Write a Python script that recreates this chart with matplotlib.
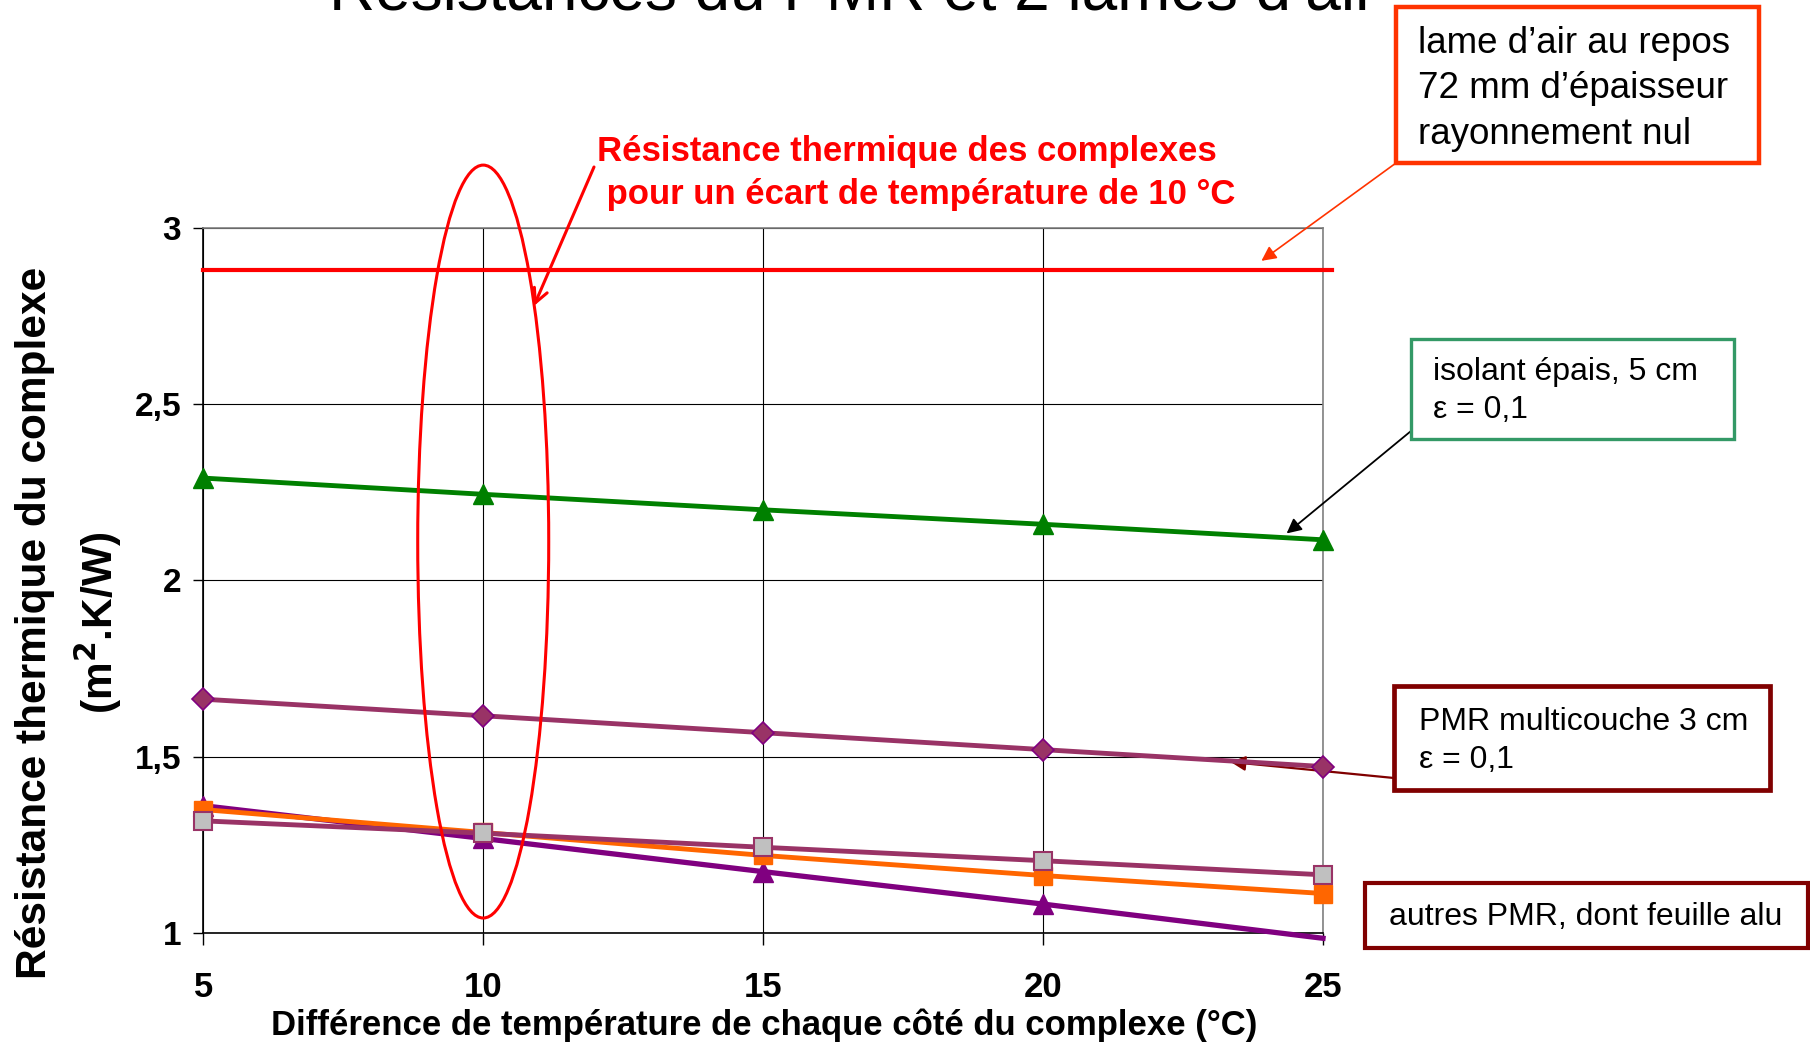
import numpy as np
import matplotlib
matplotlib.use("Agg")
import matplotlib.pyplot as plt
import matplotlib.patches as patches

plt.rcParams['font.family'] = ['Liberation Sans', 'DejaVu Sans']

# temperature difference across the assembly (°C)
delta_t = [5, 10, 15, 20, 25]

# thermal resistance of each assembly (m².K/W)
lame_air_R = 2.88
isolant_R = [2.29, 2.244, 2.20, 2.159, 2.115]
pmr_multi_R = [1.663, 1.616, 1.568, 1.520, 1.472]
pmr_alu_R = [1.361, 1.268, 1.174, 1.082, 0.985]
pmr_orange_R = [1.350, 1.285, 1.220, 1.163, 1.112]
pmr_gris_R = [1.318, 1.283, 1.243, 1.205, 1.165]

y_ticks = [1, 1.5, 2, 2.5, 3]
y_tick_labels = ['1', '1,5', '2', '2,5', '3']

W, H = 1810, 1046
fig = plt.figure(figsize=(W / 100, H / 100), dpi=100)


def fx(px):
    return px / W


def fy(py):
    return 1 - py / H


ax = fig.add_axes([fx(203.3), fy(933), fx(1323) - fx(203.3), fy(227.7) - fy(933)])
ax.set_xlim(5, 25)
ax.set_ylim(1, 3)

ax.set_xticks(delta_t)
ax.set_xticklabels([str(t) for t in delta_t], fontsize=25, fontweight='bold')
ax.set_yticks(y_ticks)
ax.set_yticklabels(y_tick_labels, fontsize=24, fontweight='bold')
ax.tick_params(axis='x', length=8.6, width=1, pad=19)
ax.tick_params(axis='y', length=7, width=1, pad=9)
ax.grid(True, color='black', lw=0.8)
for s in ['left', 'bottom']:
    ax.spines[s].set_color('black')
    ax.spines[s].set_linewidth(1.2)
for s in ['top', 'right']:
    ax.spines[s].set_color('#808080')
    ax.spines[s].set_linewidth(1.2)

lw = 3.5

# air layer at rest, no radiation
ax.axhline(lame_air_R, xmin=0, xmax=1.008, color='#FF0000', lw=3.0, clip_on=False, zorder=3)

ax.plot(delta_t, isolant_R, color='#008000', lw=lw, marker='^', ms=14,
        mfc='#008000', mec='#008000', clip_on=False, zorder=4)
ax.plot(delta_t, pmr_multi_R, color='#993366', lw=lw, marker='D', ms=11,
        mfc='#993366', mec='#800080', mew=1.2, clip_on=False, zorder=4)

# the last point falls under the axis: draw the line but only the visible markers
t_arr = np.array(delta_t)
alu = np.array(pmr_alu_R)
ax.plot(t_arr, alu, color='#800080', lw=3.8, clip_on=False, zorder=4)
ax.plot(t_arr[alu >= 1], alu[alu >= 1], ls='none', marker='^', ms=14,
        mfc='#800080', mec='#800080', clip_on=False, zorder=4)

ax.plot(delta_t, pmr_orange_R, color='#FF6600', lw=lw, marker='s', ms=13,
        mfc='#FF6600', mec='#FF6600', clip_on=False, zorder=5)
ax.plot(delta_t, pmr_gris_R, color='#993366', lw=lw, marker='s', ms=13,
        mfc='#C0C0C0', mec='#993366', mew=1.5, clip_on=False, zorder=6)

# highlight the 10 °C column
ell = patches.Ellipse((10, 2.11), 2.34, 2.135, fill=False, ec='#FF0000', lw=2.2,
                      clip_on=False, zorder=7)
ax.add_patch(ell)

fig.text(fx(597), fy(173), "Résistance thermique des complexes\n pour un écart de température de 10 °C",
         color='#FF0000', fontsize=25, fontweight='bold', ha='left', va='center',
         linespacing=1.42)
ax.annotate('', xy=(10.905, 2.778), xycoords='data',
            xytext=(fx(594), fy(167)), textcoords='figure fraction',
            arrowprops=dict(arrowstyle='->', color='#FF0000', lw=2.2,
                            mutation_scale=25, shrinkA=0, shrinkB=0))

# title
fig.text(fx(853), fy(10), "Résistances du PMR et 2 lames d’air", fontsize=46,
         ha='center', va='baseline', color='black')

# axis labels
fig.text(fx(35), fy(623), "Résistance thermique du complexe", rotation=90,
         fontsize=30.5, fontweight='bold', ha='center', va='center')
fig.text(fx(98), fy(623), "(m$^\\mathbf{2}$.K/W)", rotation=90,
         fontsize=30.5, fontweight='bold', ha='center', va='center')
fig.text(fx(662 * 1.1544), fy(1025), "Différence de température de chaque côté du complexe (°C)",
         fontsize=25, fontweight='bold', ha='center', va='center')


def box(x0, y0, x1, y1, color, lwidth):
    r = patches.Rectangle((fx(x0), fy(y1)), fx(x1) - fx(x0), fy(y0) - fy(y1),
                          transform=fig.transFigure, fill=True, fc='white',
                          ec=color, lw=lwidth, zorder=10)
    fig.add_artist(r)


box(1396, 7, 1759, 163, '#FF3300', 3.2)
fig.text(fx(1418), fy(89), "lame d’air au repos\n72 mm d’épaisseur\nrayonnement nul",
         fontsize=26.5, ha='left', va='center', linespacing=1.38, zorder=11)
ax.annotate('', xy=(23.9, 2.906), xycoords='data',
            xytext=(fx(1396), fy(163)), textcoords='figure fraction',
            arrowprops=dict(arrowstyle='-|>', color='#FF3300', lw=1.2,
                            mutation_scale=22, shrinkA=0, shrinkB=0))

box(1411, 339, 1734, 439, '#339966', 2.4)
fig.text(fx(1433), fy(391), "isolant épais, 5 cm\nε = 0,1",
         fontsize=23, ha='left', va='center', linespacing=1.36, zorder=11)
ax.annotate('', xy=(24.35, 2.133), xycoords='data',
            xytext=(fx(1411), fy(431)), textcoords='figure fraction',
            arrowprops=dict(arrowstyle='-|>', color='black', lw=1.3,
                            mutation_scale=22, shrinkA=0, shrinkB=0))

box(1394, 686, 1770, 790, '#800000', 3.4)
fig.text(fx(1419), fy(741), "PMR multicouche 3 cm\nε = 0,1",
         fontsize=23, ha='left', va='center', linespacing=1.36, zorder=11)
ax.annotate('', xy=(23.35, 1.485), xycoords='data',
            xytext=(fx(1394), fy(778)), textcoords='figure fraction',
            arrowprops=dict(arrowstyle='-|>', color='#800000', lw=1.6,
                            mutation_scale=22, shrinkA=0, shrinkB=0))

box(1365, 883, 1808, 948, '#800000', 3.0)
fig.text(fx(1586), fy(917), "autres PMR, dont feuille alu",
         fontsize=23, ha='center', va='center', zorder=11)

fig.savefig('out.png', dpi=100)
